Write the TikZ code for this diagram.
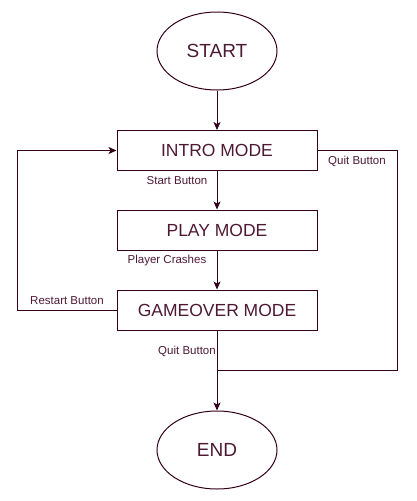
\documentclass[tikz,border=0pt]{standalone}
\usepackage{fontspec}
\setmainfont{Liberation Sans}
\usetikzlibrary{shapes.geometric,arrows.meta}
\definecolor{txt}{RGB}{77,25,51}
\definecolor{ln}{RGB}{51,0,25}
\tikzset{
  term/.style={draw=ln, line width=1pt, ellipse, minimum width=120pt, minimum height=78pt, inner sep=0pt, text=txt, font=\fontsize{19}{22}\selectfont},
  modebox/.style={draw=ln, line width=1pt, rectangle, minimum width=200pt, minimum height=40pt, inner sep=0pt, text=txt, font=\fontsize{17.5}{20}\selectfont},
  conn/.style={draw=ln, line width=1pt},
  arr/.style={conn, -{Stealth[length=8pt,width=7pt,inset=2pt]}},
  lbl/.style={text=txt, font=\fontsize{11.5}{13}\selectfont, inner sep=0pt},
}
\begin{document}
\begin{tikzpicture}[x=1pt,y=-1pt]
\useasboundingbox (0,0) rectangle (416,501);
\node[term] (start) at (217,51) {START};
\node[modebox] (intro) at (217,150.5) {INTRO MODE};
\node[modebox] (play) at (217,230) {PLAY MODE};
\node[modebox] (over) at (217,310) {GAMEOVER MODE};
\node[term] (end) at (217,450) {END};
\coordinate (j) at (217,370);
\coordinate (qr) at (397,150.5);
\coordinate (rl) at (17,310);
\draw[arr] (start) -- (intro);
\draw[arr] (intro) -- (play);
\draw[arr] (play) -- (over);
\draw[arr] (over) -- (end);
\draw[arr] (over.west) -- (rl) |- (intro.west);
\draw[conn] (intro.east) -- (qr) |- (j);
\node[lbl] (l1) at (177,181) {Start Button};
\node[lbl] (l2) at (167,261) {Player Crashes};
\node[lbl] (l3) at (67,301) {Restart Button};
\node[lbl] (l4) at (187,351) {Quit Button};
\node[lbl] (l5) at (357,161) {Quit Button};
\end{tikzpicture}
\end{document}
